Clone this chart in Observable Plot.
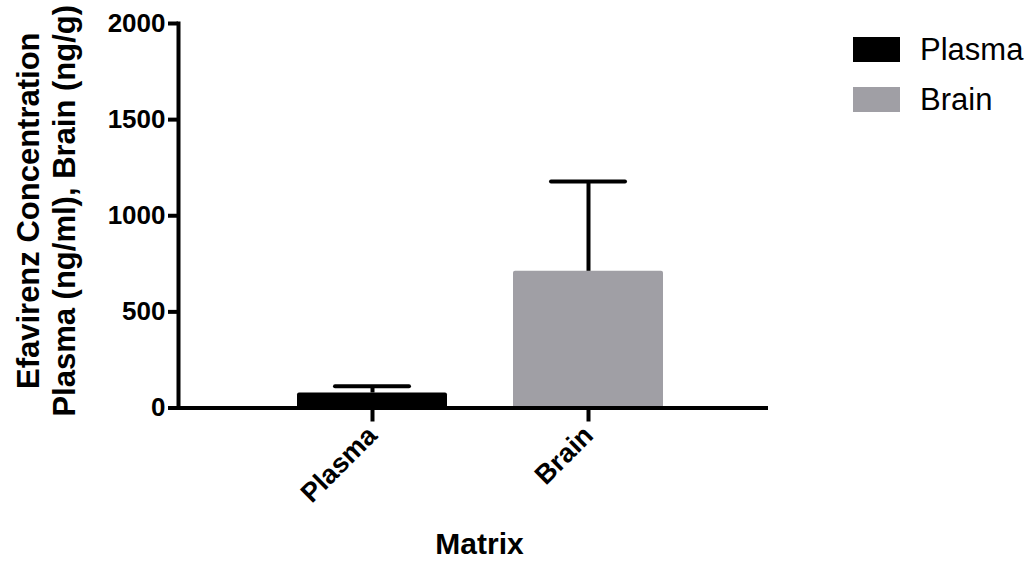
<!DOCTYPE html>
<html>
<head>
<meta charset="utf-8">
<script src="https://cdn.jsdelivr.net/npm/d3@7"></script>
<script src="https://cdn.jsdelivr.net/npm/@observablehq/plot@0.6"></script>
<style>
  html, body { margin: 0; padding: 0; background: #fff; }
  #wrap { position: relative; width: 1028px; height: 561px; font-family: "Liberation Sans", Arial, sans-serif; }
  #legend { position: absolute; left: 853px; top: 37px; }
  .item { display: flex; align-items: center; height: 25px; margin-bottom: 25px; }
  .sw { width: 47px; height: 25px; margin-right: 20px; }
  .lab { font-size: 31px; line-height: 25px; color: #000; }
</style>
</head>
<body>
<div id="wrap"></div>
<script>
const categories = ["Plasma", "Brain"];
const means = [78, 711];
const sds = [35, 467];
const colors = ["#000000", "#a09fa5"];
const yTicks = [0, 500, 1000, 1500, 2000];
const yLabel = "Efavirenz Concentration\nPlasma (ng/ml), Brain (ng/g)";
const xLabel = "Matrix";

const data = categories.map((c, i) => ({matrix: c, mean: means[i], sd: sds[i]}));

const chart = Plot.plot({
  width: 1028,
  height: 561,
  marginLeft: 178,
  marginRight: 260,
  marginTop: 23,
  marginBottom: 153.5,
  style: {fontFamily: "'Liberation Sans', Arial, sans-serif", color: "#000", background: "#fff"},
  x: {domain: categories, range: [296.5, 663], paddingInner: 0.307, paddingOuter: 0, axis: null},
  y: {domain: [0, 2000], axis: null},
  color: {domain: categories, range: colors},
  marks: [
    Plot.barY(data, {x: "matrix", y: "mean", fill: "matrix", rx: 2}),
    Plot.axisY({ticks: yTicks, tickFormat: d => String(d), tickSize: 10, tickPadding: 3, strokeWidth: 4, fontSize: 26, fontWeight: "bold", label: null}),
    Plot.axisX({tickSize: 14, tickPadding: 9, tickRotate: -45, strokeWidth: 4, fontSize: 27, fontWeight: "bold", label: null}),
    Plot.frame({anchor: "left", strokeWidth: 4}),
    Plot.ruleY([0], {strokeWidth: 4}),
    Plot.ruleX(data, {x: "matrix", y1: "mean", y2: d => d.mean + d.sd, strokeWidth: 4}),
    Plot.tickY(data, {x: "matrix", y: d => d.mean + d.sd, strokeWidth: 4, insetLeft: 38, insetRight: 38, strokeLinecap: "round"}),
    Plot.text([yLabel], {frameAnchor: "left", rotate: -90, dx: -133, dy: -5, fontSize: 31, fontWeight: "bold", lineHeight: 1.17, lineAnchor: "middle", textAnchor: "middle"}),
    Plot.text([xLabel], {frameAnchor: "bottom", dx: 6, dy: 136, fontSize: 30, fontWeight: "bold", lineAnchor: "middle"})
  ]
});

const wrap = document.getElementById("wrap");
wrap.appendChild(chart);

const legend = document.createElement("div");
legend.id = "legend";
categories.forEach((c, i) => {
  const item = document.createElement("div");
  item.className = "item";
  const sw = document.createElement("div");
  sw.className = "sw";
  sw.style.background = colors[i];
  const lab = document.createElement("span");
  lab.className = "lab";
  lab.textContent = c;
  item.appendChild(sw);
  item.appendChild(lab);
  legend.appendChild(item);
});
wrap.appendChild(legend);
</script>
</body>
</html>
